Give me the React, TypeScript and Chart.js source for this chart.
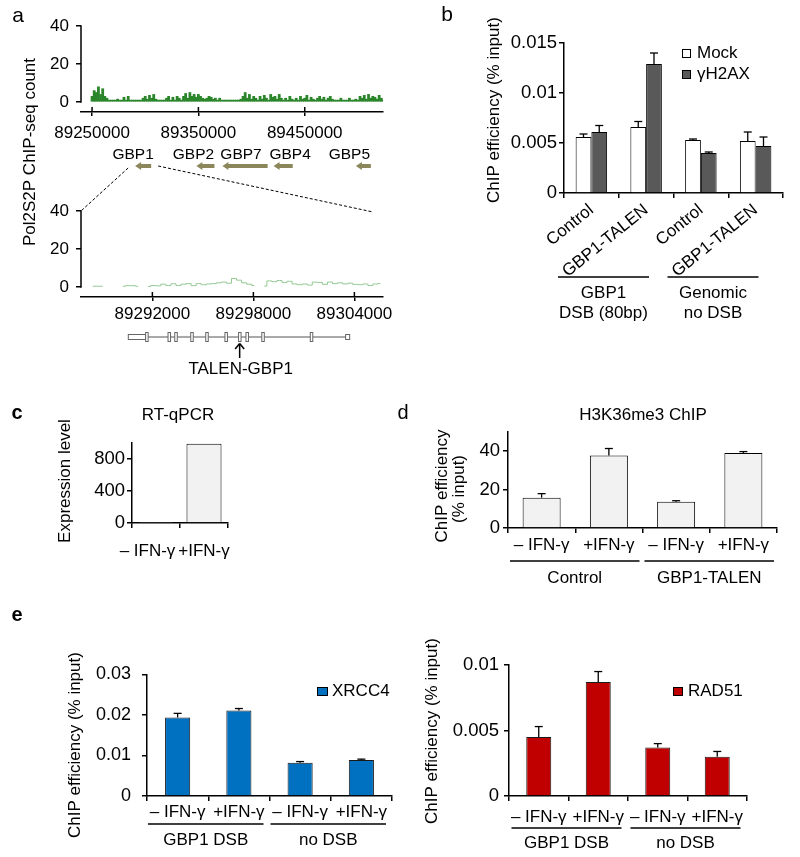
import React, { useEffect, useRef } from "react";
import { Chart, registerables } from "chart.js";

Chart.register(...registerables);

const W = 800;
const H = 857;
const FONT = "'Liberation Sans', Arial, Helvetica, sans-serif";
Chart.defaults.font.family = FONT;
Chart.defaults.color = "#000";

// ---------------- panel a : Pol2S2P ChIP-seq ----------------
const regionBinStart = 89249000;
const regionBinSize = 2000;
const regionCounts = [
  3, 6, 5, 8, 4, 7, 3, 2,
  1, 1, 1, 1, 1.5, 1, 1,
  2.5, 1, 3, 1, 1, 1,
  1, 1, 1,
  2, 3, 1.5, 3.5, 2, 4, 1.5, 1,
  1, 1, 1,
  2, 3, 1, 2.5, 1, 3, 2, 1,
  3, 4.5, 2, 5, 3, 4, 2.5, 4, 3, 2, 1.5,
  2, 3, 2.5, 1.5, 2, 1, 2, 1,
  1, 1, 1, 1, 1, 1, 1, 1, 1.5,
  3, 5, 2, 4, 1.5, 3, 2, 1,
  3, 1.5, 3.5, 2, 1, 4, 2.5, 3, 1.5, 4, 2,
  1, 2, 1, 3, 1.5, 1, 2, 1,
  3, 1.5, 2, 3.5, 1, 2.5, 1.5, 1,
  2, 3, 1.5, 2.5, 1, 2, 3, 1.5, 1,
  1, 1, 2, 1, 1,
  1, 2, 1, 1, 1.5, 1,
  3, 2, 3.5, 1.5, 4, 2, 3, 2.5, 1.5, 3.5, 2, 1,
];
const zoomBinStart = 89288300;
const zoomBinSize = 300;
const zoomCounts = [
  0.4, 0.4, 0.4, null,
  0.3, null, 0.4,
  0.7, 0.7, 0.4,
  null, 0.3, 0.8,
  0.6, 1.5, 0.8,
  1.7, 0.8,
  1.5, 1.8,
  0.7, 1.8, 1.2,
  1.6, 1.8, 2.2,
  2.6, 2.0,
  4.5, 3.6,
  2.2, 1.5, 0.8,
  null, 0.5,
  3.2, 2.8, 3.4, 2.4, 3.0,
  1.6, 1.2, 1.6,
  1.0, 2.6, 2.4, 1.4, 2.6,
  1.8, 2.2, 1.6,
  2.0, 1.4, 1.2, 1.6,
  0.8, 1.6, 1.8,
];
const regionTicks = [89250000, 89350000, 89450000];
const zoomTicks = [89292000, 89298000, 89304000];
const countTicks = [0, 20, 40];
const geneNames = ["GBP1", "GBP2", "GBP7", "GBP4", "GBP5"];
const geneStarts = [89290500, 89348100, 89372600, 89420700, 89498100];
const geneEnds = [89305600, 89365100, 89415100, 89438700, 89512200];
const transcriptStart = 89290570;
const transcriptEnd = 89303720;
const utrStarts = [89290570, 89303480];
const utrEnds = [89291600, 89303720];
const exonStarts = [89291600, 89292930, 89293330, 89294280, 89295170, 89296310, 89297120, 89297560, 89298500, 89301380];
const exonEnds = [89291700, 89293060, 89293460, 89294410, 89295300, 89296440, 89297250, 89297690, 89298620, 89301520];
const talenSite = 89297185;

// ---------------- panel b : gammaH2AX ChIP ----------------
const bCategories = ["Control", "GBP1-TALEN", "Control", "GBP1-TALEN"];
const bMock = [0.0056, 0.0066, 0.0053, 0.0052];
const bMockErr = [0.0003, 0.00055, 0.0001, 0.0009];
const bH2AX = [0.0061, 0.0129, 0.004, 0.0047];
const bH2AXErr = [0.00065, 0.0011, 0.0001, 0.0009];
const bTicks = [0, 0.005, 0.01, 0.015];
const bGroups = [["GBP1", "DSB (80bp)"], ["Genomic", "no DSB"]];

// ---------------- panel c : RT-qPCR ----------------
const ifnLabels = ["– IFN-γ\u2003", "+IFN-γ"];
const cExpression = [2, 990];
const cTicks = [0, 400, 800];

// ---------------- panel d : H3K36me3 ChIP ----------------
const dCategories = ["– IFN-γ", "+IFN-γ", "– IFN-γ", "+IFN-γ"];
const dValues = [15.8, 37.7, 13.7, 39.1];
const dErr = [2.1, 3.7, 0.5, 0.7];
const dTicks = [0, 10, 20, 30, 40, 50];
const dGroups = [["Control"], ["GBP1-TALEN"]];

// ---------------- panel e : XRCC4 / RAD51 ChIP ----------------
const eCategories = ["– IFN-γ", "+IFN-γ", "– IFN-γ", "+IFN-γ"];
const xrcc4 = [0.0194, 0.0211, 0.0082, 0.0089];
const xrcc4Err = [0.001, 0.0005, 0.0003, 0.0002];
const rad51 = [0.0045, 0.0087, 0.0037, 0.003];
const rad51Err = [0.0008, 0.0008, 0.0003, 0.0004];
const xrccTicks = [0, 0.01, 0.02, 0.03];
const radTicks = [0, 0.005, 0.01];
const eGroups = [["GBP1 DSB"], ["no DSB"]];

// ---------------- helpers ----------------
type Area = { l: number; t: number; r: number; b: number };

function txt(ctx: any, s: string, x: number, y: number, o: any = {}) {
  ctx.save();
  ctx.font = `${o.bold ? "bold " : ""}${o.size ?? 17}px ${FONT}`;
  ctx.fillStyle = "#000";
  ctx.textAlign = o.align ?? "center";
  ctx.textBaseline = "middle";
  ctx.translate(x, y);
  if (o.rot) ctx.rotate(o.rot);
  ctx.fillText(s, 0, 0);
  ctx.restore();
}

function seg(ctx: any, x0: number, y0: number, x1: number, y1: number, w = 1.5, color = "#000", dash: number[] = []) {
  ctx.save();
  ctx.strokeStyle = color;
  ctx.lineWidth = w;
  ctx.setLineDash(dash);
  ctx.beginPath();
  ctx.moveTo(x0, y0);
  ctx.lineTo(x1, y1);
  ctx.stroke();
  ctx.restore();
}

function legendItem(ctx: any, x: number, y: number, w: number, h: number, color: string, label: string) {
  ctx.save();
  ctx.fillStyle = color;
  ctx.fillRect(x, y, w, h);
  ctx.strokeStyle = "#000";
  ctx.lineWidth = 1;
  ctx.strokeRect(x + 0.5, y + 0.5, w - 1, h - 1);
  ctx.restore();
  txt(ctx, label, x + 15, y + h / 2, { align: "left" });
}

function drawGroups(chart: any, groups: string[][], lineY: number, textY: number, dx0: number, dx1: number, lineGap = 20) {
  const xs = chart.scales.x;
  const half = (xs.getPixelForValue(1) - xs.getPixelForValue(0)) / 2;
  groups.forEach((lines, g) => {
    const i0 = g * 2;
    const i1 = g * 2 + 1;
    const x0 = xs.getPixelForValue(i0) - half + dx0;
    const x1 = xs.getPixelForValue(i1) + half + dx1;
    seg(chart.ctx, x0, lineY, x1, lineY, 1.5);
    lines.forEach((s, k) => txt(chart.ctx, s, (x0 + x1) / 2, textY + k * lineGap));
  });
}

const errorBars = {
  id: "errorBars",
  afterDatasetsDraw(chart: any) {
    const ctx = chart.ctx;
    const y = chart.scales.y;
    chart.data.datasets.forEach((ds: any, di: number) => {
      if (!ds.errors) return;
      chart.getDatasetMeta(di).data.forEach((el: any, i: number) => {
        const top = y.getPixelForValue(ds.data[i] + ds.errors[i]);
        seg(ctx, el.x, el.y, el.x, top, 1.3);
        seg(ctx, el.x - 4, top, el.x + 4, top, 1.3);
      });
    });
  },
};

const tickFont = { family: FONT, size: 17 };
const axisBorder = { display: true, color: "#000", width: 1.5 };
const tickGrid = (len: number) => ({
  display: true,
  drawOnChartArea: false,
  drawTicks: true,
  tickLength: len,
  color: "#000",
  lineWidth: 1.5,
});

function valueAxis(a: Area, ticks: number[], min: number, max: number, pad: number, border = true, size = 17) {
  return {
    type: "linear",
    position: "left",
    min,
    max,
    afterBuildTicks: (s: any) => {
      s.ticks = ticks.map((v) => ({ value: v }));
    },
    afterFit: (s: any) => {
      s.width = a.l;
    },
    ticks: { color: "#000", font: { family: FONT, size }, padding: pad, callback: (v: any) => String(v) },
    grid: tickGrid(5),
    border: { ...axisBorder, display: border },
  };
}

function categoryAxis(a: Area, pad: number, rot = 0) {
  return {
    type: "category",
    position: "bottom",
    offset: true,
    afterFit: (s: any) => {
      s.height = H - a.b;
    },
    ticks: { color: "#000", font: tickFont, padding: pad, autoSkip: false, minRotation: rot, maxRotation: rot },
    grid: { ...tickGrid(5), offset: true },
    border: axisBorder,
  };
}

function genomeAxis(a: Area, ticks: number[], min: number, max: number, pad: number) {
  return {
    type: "linear",
    position: "bottom",
    min,
    max,
    offset: false,
    afterBuildTicks: (s: any) => {
      s.ticks = ticks.map((v) => ({ value: v }));
    },
    afterFit: (s: any) => {
      s.height = H - a.b;
    },
    ticks: { color: "#000", font: tickFont, padding: pad, callback: (v: any) => String(v) },
    grid: { ...tickGrid(4), offset: false },
    border: axisBorder,
  };
}

function baseOptions(a: Area) {
  return {
    responsive: false,
    maintainAspectRatio: false,
    animation: false,
    events: [],
    layout: { autoPadding: false, padding: { left: 0, top: a.t, right: W - a.r, bottom: 0 } },
    plugins: { legend: { display: false }, tooltip: { enabled: false }, title: { display: false } },
  };
}

function trackFrame(chart: any, ticks: number[]) {
  const ctx = chart.ctx;
  const ca = chart.chartArea;
  const y = chart.scales.y;
  const x = chart.scales.x;
  seg(ctx, ca.left, y.getPixelForValue(countTicks[0]) + 0.75, ca.left, y.getPixelForValue(countTicks[countTicks.length - 1]) - 0.75, 1.5);
  ticks.forEach((v) => {
    const px = x.getPixelForValue(v);
    seg(ctx, px, ca.bottom, px, ca.bottom - 5, 1.5);
  });
}

function geneArrow(ctx: any, x0: number, x1: number, y: number, color: string) {
  const head = Math.min(6, (x1 - x0) / 2);
  ctx.save();
  ctx.fillStyle = color;
  ctx.beginPath();
  ctx.moveTo(x0, y);
  ctx.lineTo(x0 + head, y - 4);
  ctx.lineTo(x0 + head, y - 2);
  ctx.lineTo(x1, y - 2);
  ctx.lineTo(x1, y + 2);
  ctx.lineTo(x0 + head, y + 2);
  ctx.lineTo(x0 + head, y + 4);
  ctx.closePath();
  ctx.fill();
  ctx.restore();
}

const geneLabelDx = [-10, -12, -4, 7, -14];

export default function App() {
  const r0 = useRef<HTMLCanvasElement>(null);
  const r1 = useRef<HTMLCanvasElement>(null);
  const r2 = useRef<HTMLCanvasElement>(null);
  const r3 = useRef<HTMLCanvasElement>(null);
  const r4 = useRef<HTMLCanvasElement>(null);
  const r5 = useRef<HTMLCanvasElement>(null);
  const r6 = useRef<HTMLCanvasElement>(null);
  const refs = [r0, r1, r2, r3, r4, r5, r6];

  useEffect(() => {
    const charts: Chart[] = [];

    // ---- a (top track) ----
    const a1Area = { l: 81, t: 26, r: 383, b: 112 };
    const a1: any = new Chart(r0.current as HTMLCanvasElement, {
      type: "bar",
      data: {
        datasets: [
          {
            data: regionCounts.map((v, i) => ({ x: regionBinStart + (i + 0.5) * regionBinSize, y: v })),
            backgroundColor: "#2b862b",
            borderWidth: 0,
            barPercentage: 1,
            categoryPercentage: 1,
          },
        ],
      },
      options: {
        ...baseOptions(a1Area),
        scales: {
          x: genomeAxis(a1Area, regionTicks, 89239600, 89523600, 7),
          y: valueAxis(a1Area, countTicks, -5.26, 40, 7, false),
        },
      } as any,
      plugins: [
        {
          id: "a1",
          afterDraw(chart: any) {
            const ctx = chart.ctx;
            trackFrame(chart, regionTicks);
            txt(ctx, "a", 18, 16, { size: 21 });
            txt(ctx, "Pol2S2P ChIP-seq count", 30, 152, { rot: -Math.PI / 2 });
            const x = chart.scales.x;
            geneNames.forEach((g, i) => {
              const x0 = x.getPixelForValue(geneStarts[i]);
              const x1 = x.getPixelForValue(geneEnds[i]);
              geneArrow(ctx, x0, x1, 166, "#8c875a");
              txt(ctx, g, (x0 + x1) / 2 + geneLabelDx[i], 155, { size: 15.5 });
            });
          },
        },
      ],
    });
    charts.push(a1);

    // ---- a (zoom track) ----
    const a2Area = { l: 81, t: 211, r: 383, b: 297 };
    const a2 = new Chart(r1.current as HTMLCanvasElement, {
      type: "line",
      data: {
        datasets: [
          {
            data: zoomCounts.map((v, i) => ({ x: zoomBinStart + (i + 0.5) * zoomBinSize, y: v })),
            borderColor: "#93c893",
            borderWidth: 1,
            pointRadius: 0,
            stepped: "middle",
            spanGaps: false,
            fill: false,
          },
        ],
      },
      options: {
        ...baseOptions(a2Area),
        scales: {
          x: genomeAxis(a2Area, zoomTicks, 89287760, 89305700, 3),
          y: valueAxis(a2Area, countTicks, -5.26, 40, 7, false),
        },
      } as any,
      plugins: [
        {
          id: "a2",
          afterDraw(chart: any) {
            const ctx = chart.ctx;
            const ca = chart.chartArea;
            const x = chart.scales.x;
            const y = chart.scales.y;
            trackFrame(chart, zoomTicks);
            const tx = a1.scales.x;
            seg(ctx, tx.getPixelForValue(geneStarts[0]) - 7, 168, ca.left, y.getPixelForValue(40), 1, "#000", [3, 2]);
            seg(ctx, tx.getPixelForValue(geneEnds[0]) + 7, 166, ca.right - 10, y.getPixelForValue(40) + 1, 1, "#000", [3, 2]);
            const gy = 337;
            seg(ctx, x.getPixelForValue(transcriptStart), gy, x.getPixelForValue(transcriptEnd), gy, 1, "#555");
            ctx.save();
            ctx.fillStyle = "#fff";
            ctx.strokeStyle = "#666";
            ctx.lineWidth = 1;
            utrStarts.forEach((s, i) => {
              const x0 = x.getPixelForValue(s);
              const x1 = x.getPixelForValue(utrEnds[i]);
              ctx.fillRect(x0, gy - 2.5, x1 - x0, 5);
              ctx.strokeRect(x0, gy - 2.5, x1 - x0, 5);
            });
            exonStarts.forEach((s, i) => {
              const x0 = x.getPixelForValue(s);
              const x1 = x.getPixelForValue(exonEnds[i]);
              const w = Math.max(x1 - x0, 2.5);
              ctx.fillRect(x0, gy - 4.5, w, 9);
              ctx.strokeRect(x0, gy - 4.5, w, 9);
            });
            ctx.restore();
            const sx = x.getPixelForValue(talenSite);
            seg(ctx, sx, 358, sx, 344, 1.5);
            seg(ctx, sx - 4.5, 349, sx, 343.5, 1.5);
            seg(ctx, sx + 4.5, 349, sx, 343.5, 1.5);
            txt(ctx, "TALEN-GBP1", sx + 1, 369);
          },
        },
      ],
    });
    charts.push(a2);

    // ---- b ----
    const bArea = { l: 564, t: 43, r: 783, b: 193 };
    const b = new Chart(r2.current as HTMLCanvasElement, {
      type: "bar",
      data: {
        labels: bCategories,
        datasets: [
          { label: "Mock", data: bMock, errors: bMockErr, backgroundColor: "#ffffff", borderColor: "#000", borderWidth: 1, categoryPercentage: 0.575, barPercentage: 1 },
          { label: "γH2AX", data: bH2AX, errors: bH2AXErr, backgroundColor: "#595959", borderColor: "#000", borderWidth: 1, categoryPercentage: 0.575, barPercentage: 1 },
        ] as any,
      },
      options: {
        ...baseOptions(bArea),
        scales: { x: categoryAxis(bArea, 2, 39), y: valueAxis(bArea, bTicks, 0, 0.015, 2, true, 18.5) },
      } as any,
      plugins: [
        errorBars,
        {
          id: "b",
          afterDraw(chart: any) {
            const ctx = chart.ctx;
            txt(ctx, "b", 447, 15, { size: 21 });
            txt(ctx, "ChIP efficiency (% input)", 494, 110, { rot: -Math.PI / 2 });
            legendItem(ctx, 682, 49, 9, 9, "#ffffff", "Mock");
            legendItem(ctx, 682, 70, 9, 9, "#595959", "γH2AX");
            drawGroups(chart, bGroups, 277, 293, -6, -24.5);
          },
        },
      ],
    });
    charts.push(b);

    // ---- c ----
    const cArea = { l: 132, t: 443, r: 228, b: 523 };
    const c = new Chart(r3.current as HTMLCanvasElement, {
      type: "bar",
      data: {
        labels: ifnLabels,
        datasets: [{ data: cExpression, backgroundColor: "#f2f2f2", borderColor: "#000", borderWidth: 1, categoryPercentage: 0.73, barPercentage: 1 }],
      },
      options: {
        ...baseOptions(cArea),
        scales: { x: categoryAxis(cArea, 13), y: valueAxis(cArea, cTicks, 0, 1000, 2, true, 18.5) },
      } as any,
      plugins: [
        {
          id: "c",
          afterDraw(chart: any) {
            const ctx = chart.ctx;
            txt(ctx, "c", 17, 413, { size: 20, bold: true });
            txt(ctx, "RT-qPCR", 178, 415);
            txt(ctx, "Expression level", 65, 481, { rot: -Math.PI / 2 });
          },
        },
      ],
    });
    charts.push(c);

    // ---- d ----
    const dArea = { l: 508, t: 432, r: 777, b: 528 };
    const d = new Chart(r4.current as HTMLCanvasElement, {
      type: "bar",
      data: {
        labels: dCategories,
        datasets: [{ data: dValues, errors: dErr, backgroundColor: "#f2f2f2", borderColor: "#000", borderWidth: 1, categoryPercentage: 0.565, barPercentage: 1 }] as any,
      },
      options: {
        ...baseOptions(dArea),
        scales: { x: categoryAxis(dArea, 2), y: valueAxis(dArea, dTicks, 0, 50, 3, true, 18.5) },
      } as any,
      plugins: [
        errorBars,
        {
          id: "d",
          afterDraw(chart: any) {
            const ctx = chart.ctx;
            txt(ctx, "d", 403, 413, { size: 20 });
            txt(ctx, "H3K36me3 ChIP", 643, 415);
            txt(ctx, "ChIP efficiency", 442, 486, { rot: -Math.PI / 2 });
            txt(ctx, "(% input)", 459, 489, { rot: -Math.PI / 2 });
            drawGroups(chart, dGroups, 561, 578, 2, -3);
          },
        },
      ],
    });
    charts.push(d);

    // ---- e (XRCC4) ----
    const e1Area = { l: 147, t: 674.5, r: 392, b: 796 };
    const e1 = new Chart(r5.current as HTMLCanvasElement, {
      type: "bar",
      data: {
        labels: eCategories,
        datasets: [{ data: xrcc4, errors: xrcc4Err, backgroundColor: "#0070c0", borderColor: "#1a1a1a", borderWidth: 1, categoryPercentage: 0.41, barPercentage: 1 }] as any,
      },
      options: {
        ...baseOptions(e1Area),
        scales: { x: categoryAxis(e1Area, 1), y: valueAxis(e1Area, xrccTicks, 0, 0.03, 11, true, 18) },
      } as any,
      plugins: [
        errorBars,
        {
          id: "e1",
          afterDraw(chart: any) {
            const ctx = chart.ctx;
            txt(ctx, "e", 17, 615, { size: 20, bold: true });
            txt(ctx, "ChIP efficiency (% input)", 75, 745, { rot: -Math.PI / 2 });
            legendItem(ctx, 317, 687, 11, 9, "#0070c0", "XRCC4");
            drawGroups(chart, eGroups, 824, 840, 1, -6);
          },
        },
      ],
    });
    charts.push(e1);

    // ---- e (RAD51) ----
    const e2Area = { l: 509, t: 665, r: 747, b: 796 };
    const e2 = new Chart(r6.current as HTMLCanvasElement, {
      type: "bar",
      data: {
        labels: eCategories,
        datasets: [{ data: rad51, errors: rad51Err, backgroundColor: "#c00000", borderColor: "#1a1a1a", borderWidth: 1, categoryPercentage: 0.42, barPercentage: 1 }] as any,
      },
      options: {
        ...baseOptions(e2Area),
        scales: { x: categoryAxis(e2Area, 6), y: valueAxis(e2Area, radTicks, 0, 0.01, 5, true, 18.5) },
      } as any,
      plugins: [
        errorBars,
        {
          id: "e2",
          afterDraw(chart: any) {
            const ctx = chart.ctx;
            txt(ctx, "ChIP efficiency (% input)", 432, 731, { rot: -Math.PI / 2 });
            legendItem(ctx, 673, 687, 10, 9, "#c00000", "RAD51");
            drawGroups(chart, eGroups, 828, 843, 2.5, -6.5);
          },
        },
      ],
    });
    charts.push(e2);

    return () => charts.forEach((ch) => ch.destroy());
  }, []);

  return (
    <div style={{ position: "absolute", left: 0, top: 0, width: W, height: H, background: "#fff", overflow: "hidden" }}>
      {refs.map((r, i) => (
        <canvas key={i} ref={r} width={W} height={H} style={{ position: "absolute", left: 0, top: 0 }} />
      ))}
    </div>
  );
}
